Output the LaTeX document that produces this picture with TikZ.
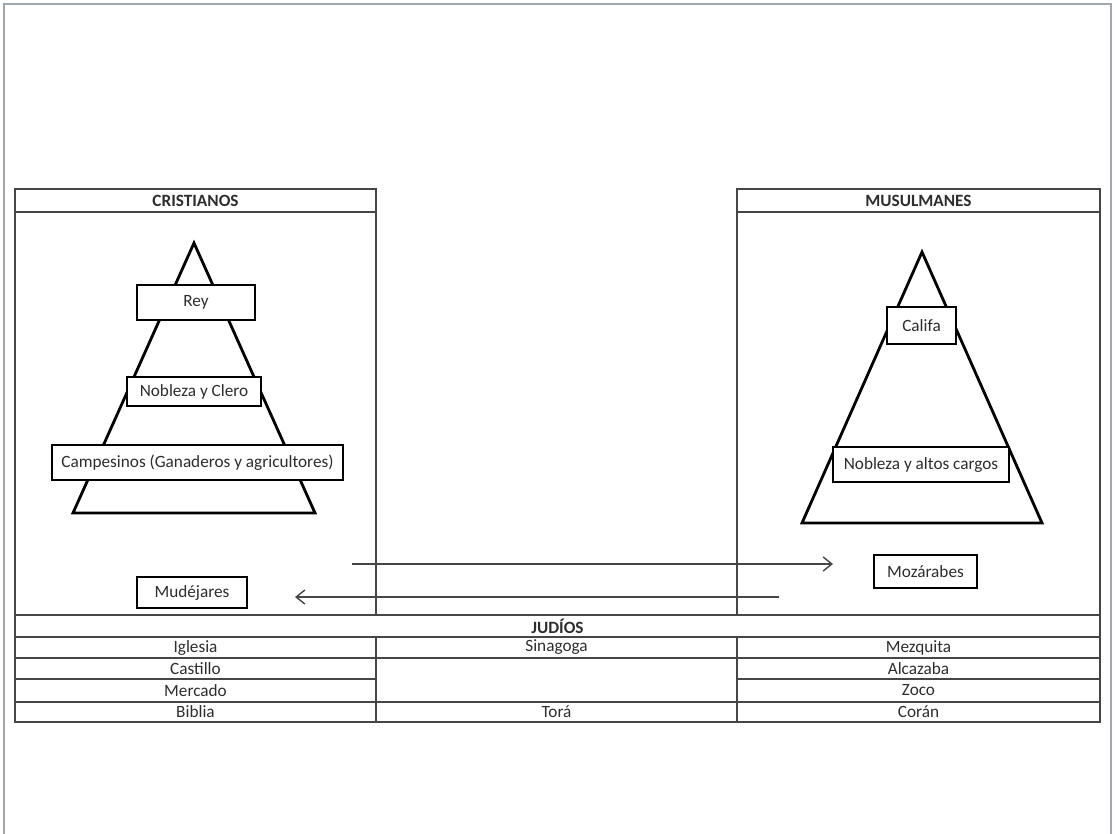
\documentclass[tikz,border=0pt]{standalone}
\usepackage{fontspec}
\setmainfont{Carlito}
\usetikzlibrary{arrows.meta}
\definecolor{marco}{RGB}{160,166,173}
\definecolor{linea}{RGB}{70,70,70}
\definecolor{texto}{RGB}{45,45,45}

\begin{document}
\begin{tikzpicture}[x=0.02cm, y=-0.02cm,
  every node/.style={font=\fontsize{9.8}{11}\selectfont, text=texto, inner sep=0pt},
  caja/.style={draw=black, line width=0.8pt, fill=white},
  titulo/.style={font=\fontsize{9.8}{11}\selectfont\bfseries},
  tabla/.style={draw=linea, line width=0.8pt},
  pira/.style={draw=black, line width=1.6pt, line join=miter},
  flecha/.style={draw=linea, line width=0.8pt, -{Straight Barb[length=5pt, width=8pt]}}]
\useasboundingbox (0,0) rectangle (1118,834);
\draw[marco, line width=1.5pt] (4,834) -- (4,4) -- (1111,4) -- (1111,834);
\draw[tabla] (15,189) rectangle (376,615);
\draw[tabla] (15,212) -- (376,212);
\draw[tabla] (737,189) rectangle (1100,615);
\draw[tabla] (737,212) -- (1100,212);
\draw[tabla] (15,615) rectangle (1100,722);
\draw[tabla] (15,637) -- (1100,637);
\draw[tabla] (15,658) -- (1100,658);
\draw[tabla] (15,679) -- (376,679);
\draw[tabla] (737,679) -- (1100,679);
\draw[tabla] (15,702) -- (1100,702);
\draw[tabla] (376,637) -- (376,722);
\draw[tabla] (737,637) -- (737,722);
\node[titulo] (cristianos) at (195.5,200.5) {CRISTIANOS};
\node[titulo] (musulmanes) at (918.5,200.5) {MUSULMANES};
\node[titulo] (judios) at (557.5,626) {JUDÍOS};
\node (iglesia) at (195.5,647.5) {Iglesia};
\node (sinagoga) at (556.5,647.5) {Sinagoga};
\node (mezquita) at (918.5,647.5) {Mezquita};
\node (castillo) at (195.5,668.5) {Castillo};
\node (alcazaba) at (918.5,668.5) {Alcazaba};
\node (mercado) at (195.5,690.5) {Mercado};
\node (zoco) at (918.5,690.5) {Zoco};
\node (biblia) at (195.5,712) {Biblia};
\node (tora) at (556.5,712) {Torá};
\node (coran) at (918.5,712) {Corán};
\coordinate (c1) at (194,243);
\coordinate (c2) at (73,513);
\coordinate (c3) at (315,513);
\coordinate (m1) at (922,252);
\coordinate (m2) at (802,523);
\coordinate (m3) at (1042,523);
\draw[pira] (c1) -- (c2) -- (c3) -- cycle;
\draw[pira] (m1) -- (m2) -- (m3) -- cycle;
\node[caja, minimum width=2.36cm, minimum height=0.70cm] (rey) at (196,302.5) {Rey};
\node[caja, minimum width=2.68cm, minimum height=0.58cm] (noblezaclero) at (194,391.5) {Nobleza y Clero};
\node[caja, minimum width=5.82cm, minimum height=0.70cm] (campesinos) at (197.5,462.5) {Campesinos (Ganaderos y agricultores)};
\node[caja, minimum width=2.20cm, minimum height=0.62cm] (mudejares) at (192,592.5) {Mudéjares};
\node[caja, minimum width=1.38cm, minimum height=0.74cm] (califa) at (921.5,325.5) {Califa};
\node[caja, minimum width=3.52cm, minimum height=0.70cm] (noblezaaltos) at (921,464.5) {Nobleza y altos cargos};
\node[caja, minimum width=2.06cm, minimum height=0.66cm] (mozarabes) at (925.5,571.5) {Mozárabes};
\coordinate (ida0) at (352,564);
\coordinate (ida1) at (833,564);
\coordinate (vuelta0) at (779,597);
\coordinate (vuelta1) at (295,597);
\draw[flecha] (ida0) -- (ida1);
\draw[flecha] (vuelta0) -- (vuelta1);
\end{tikzpicture}
\end{document}
